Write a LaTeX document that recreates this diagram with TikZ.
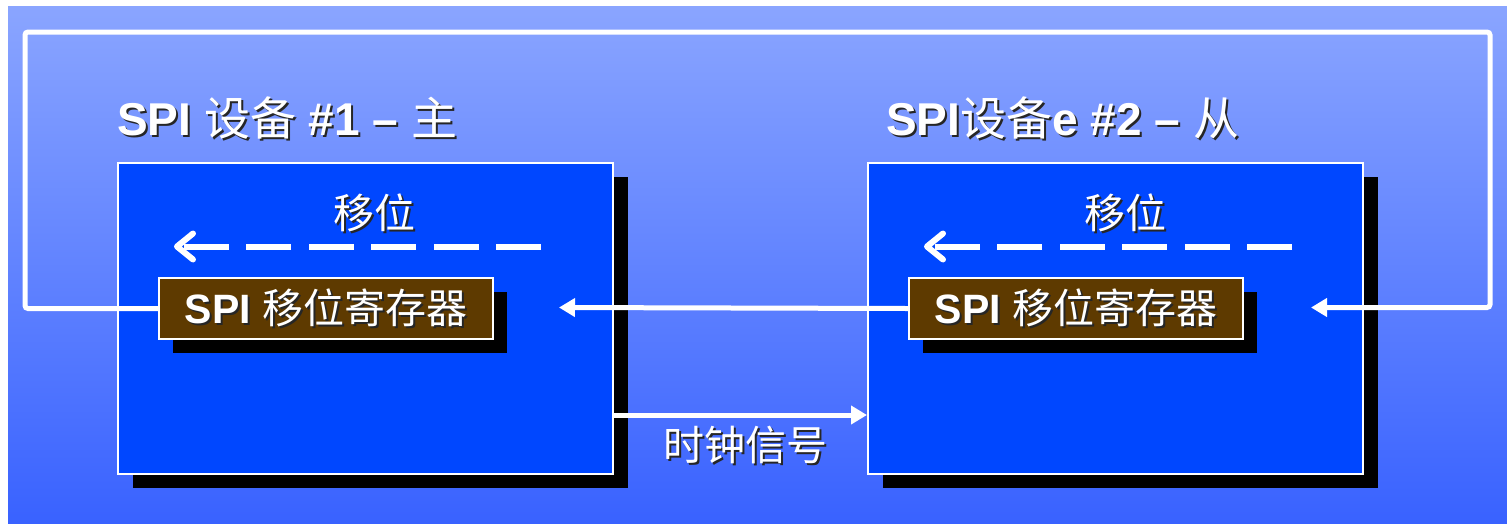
\documentclass[tikz,border=0pt]{standalone}
\usepackage{fontspec}
\setmainfont{Liberation Sans}
\newfontfamily\cjk{Noto Sans CJK SC}
\usetikzlibrary{arrows.meta,shadows}
\definecolor{bgtop}{HTML}{8AA5FF}
\definecolor{bgbot}{HTML}{3962FF}
\definecolor{devblue}{HTML}{0047FF}
\definecolor{regbrown}{HTML}{5E3A00}
\newcommand\shd[1]{\leavevmode\rlap{\kern2pt\raisebox{-2pt}{\color{black!85}#1}}#1}
\newcommand\zh[1]{{\cjk\mdseries #1}}
\newcommand\fsTitle{\fontsize{46}{50}\selectfont}
\newcommand\fsLbl{\fontsize{41}{44}\selectfont}
\tikzset{
  devbox/.style={draw=white, line width=2pt, fill=devblue, minimum width=495pt,
    minimum height=311pt, inner sep=0pt, anchor=north west,
    general shadow={shadow xshift=15pt, shadow yshift=-14pt, fill=black}},
  regbox/.style={draw=white, line width=2pt, fill=regbrown, minimum width=334pt,
    minimum height=61pt, inner sep=0pt, anchor=north west,
    general shadow={shadow xshift=14pt, shadow yshift=-14pt, fill=black}},
  wire/.style={draw=white, line width=5pt},
  tip/.style={-{Triangle[length=16pt,width=18pt]}},
  shiftline/.style={draw=white, line width=6pt, dash pattern=on 45pt off 17.5pt,
    -{Straight Barb[length=16pt,width=26pt,round]}},
  lbl/.style={text=white, inner sep=0pt},
}
\begin{document}
\begin{tikzpicture}[x=1pt,y=-1pt]
\useasboundingbox (0,0) rectangle (1507,523);
\shade[top color=bgtop, bottom color=bgbot] (8,6) rectangle (1507,523);

% devices
\node[devbox] (mdev) at (117,162) {};
\node[devbox] (sdev) at (867,162) {};
% registers
\node[regbox] (mreg) at (158,277) {};
\node[regbox] (sreg) at (908,277) {};

% coordinates
\coordinate (cTL) at (25,32);
\coordinate (cTR) at (1490,32);
\coordinate (loopTip) at (1311,307.5);
\coordinate (dataTip) at (559,307.5);
\coordinate (clk) at (740,415);
\coordinate (mshA) at (541,246.5);
\coordinate (mshB) at (174,246.5);
\coordinate (sshA) at (1292,246.5);
\coordinate (sshB) at (924,246.5);

% connectors
\draw[wire, tip, rounded corners=3pt] (mreg.west) -| (cTL) -- (cTR) |- (loopTip);
\draw[wire, tip] (sreg.west) -- (dataTip);
\draw[wire, tip] (mdev.east |- clk) -- (sdev.west |- clk);
\draw[shiftline] (mshA) -- (mshB);
\draw[shiftline] (sshA) -- (sshB);

% texts
\node[lbl, anchor=base west, font=\fsTitle] (t1) at (117,135)
  {\shd{\bfseries SPI \zh{设备} \#1 – \zh{主}}};
\node[lbl, anchor=base west, font=\fsTitle] (t2) at (886,135)
  {\shd{\bfseries SPI\zh{设备}e \#2 – \zh{从}}};
\node[lbl, font=\fsLbl] (msh) at (374,214) {\shd{\zh{移位}}};
\node[lbl, font=\fsLbl] (ssh) at (1125,214) {\shd{\zh{移位}}};
\node[lbl, font=\fsLbl] (mregt) at (mreg.center) {\shd{\bfseries SPI \zh{移位寄存器}}};
\node[lbl, font=\fsLbl] (sregt) at (sreg.center) {\shd{\bfseries SPI \zh{移位寄存器}}};
\node[lbl, font=\fsLbl] (clkt) at (745,446) {\shd{\zh{时钟信号}}};
\end{tikzpicture}
\end{document}
